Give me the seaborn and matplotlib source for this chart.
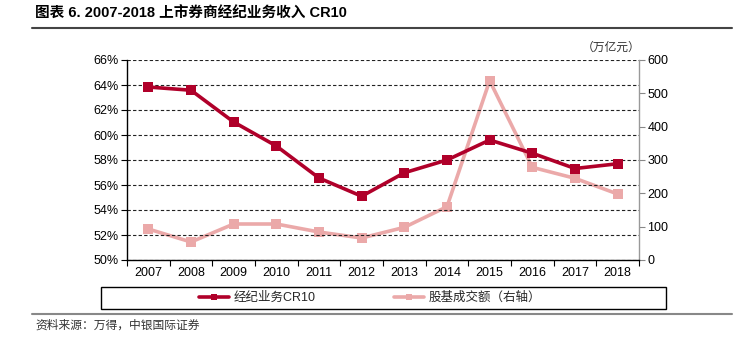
import matplotlib
matplotlib.use("Agg")
import matplotlib.pyplot as plt
from matplotlib.lines import Line2D
from matplotlib.patches import Rectangle
from matplotlib.ticker import FixedLocator, FuncFormatter
import seaborn as sns
import pandas as pd
import numpy as np

years = ["2007", "2008", "2009", "2010", "2011", "2012",
         "2013", "2014", "2015", "2016", "2017", "2018"]
cr10 = [63.84, 63.58, 61.04, 59.12, 56.56, 55.10,
        56.98, 58.00, 59.60, 58.54, 57.32, 57.70]          # %
turnover = [93, 54, 108, 108, 84, 66, 98, 160, 538, 278, 245, 198]  # 万亿元

title = "图表 6. 2007-2018 上市券商经纪业务收入 CR10"
label_cr10 = "经纪业务CR10"
label_turnover = "股基成交额（右轴）"
unit_label = "（万亿元）"
source = "资料来源：万得，中银国际证券"

dark = "#B0002A"
pink = "#EBA9A9"

sns.set_theme(style="white")
plt.rcParams["font.family"] = ["Liberation Sans", "Noto Sans CJK SC", "DejaVu Sans"]

W, H = 743, 337
fig = plt.figure(figsize=(W / 100, H / 100), dpi=100)
ax = fig.add_axes([127 / W, 1 - 260 / H, (639 - 127) / W, 200 / H])
ax2 = ax.twinx()

df = pd.DataFrame({"x": np.arange(len(years)), "cr10": cr10, "turnover": turnover})

sns.lineplot(data=df, x="x", y="turnover", ax=ax2, color=pink, lw=2.6,
             marker="s", markersize=7, markeredgewidth=0, zorder=2)
sns.lineplot(data=df, x="x", y="cr10", ax=ax, color=dark, lw=2.6,
             marker="s", markersize=7, markeredgewidth=0, zorder=3)

# draw the left axis (dark line) above the right one
ax.set_zorder(ax2.get_zorder() + 1)
ax.patch.set_visible(False)

ax.set_xlim(-0.5, len(years) - 0.5)
ax.set_ylim(50, 66)
ax2.set_ylim(0, 600)
ax.set_yticks(np.arange(50, 67, 2))
ax.yaxis.set_major_formatter(FuncFormatter(lambda v, p: f"{v:.0f}%"))
ax2.set_yticks(np.arange(0, 601, 100))

ax.set_xticks(np.arange(len(years)))
ax.set_xticklabels(years)
ax.xaxis.set_minor_locator(FixedLocator(np.arange(-0.5, len(years), 1.0)))
ax.tick_params(axis="x", which="major", length=0, pad=5, labelsize=9, colors="black")
ax.tick_params(axis="x", which="minor", length=4, width=0.8, color="black", direction="out", bottom=True)
ax.tick_params(axis="y", length=4, width=0.8, color="black", direction="out", left=True, labelsize=9, labelcolor="black", pad=2)
ax2.tick_params(axis="y", length=4, width=0.8, color="#888888", direction="out", right=True, labelsize=9, labelcolor="black", pad=2)

ax.set_xlabel("")
ax.set_ylabel("")
ax2.set_ylabel("")
ax.grid(axis="y", color="#222222", linestyle=(0, (3, 2)), lw=0.8)
ax.grid(axis="x", visible=False)
ax2.grid(False)

for a in (ax, ax2):
    a.spines["top"].set_visible(False)
ax.spines["right"].set_visible(False)
ax.spines["left"].set_color("black")
ax.spines["bottom"].set_color("black")
ax2.spines["left"].set_visible(False)
ax2.spines["bottom"].set_visible(False)
ax2.spines["right"].set_color("#999999")
for s in ("left", "bottom"):
    ax.spines[s].set_linewidth(1.0)
ax2.spines["right"].set_linewidth(1.0)

fig.text(640 / W, 1 - 48 / H, unit_label, ha="right", va="center", fontsize=8.5,
         style="italic", color="#333333")

# legend with a framed box
handles = [Line2D([], [], color=dark, lw=2.6, marker="s", markersize=4, markeredgewidth=0),
           Line2D([], [], color=pink, lw=2.6, marker="s", markersize=4, markeredgewidth=0)]
fig.legend(handles, [label_cr10, label_turnover], loc="center",
           bbox_to_anchor=(370 / W, 1 - 298 / H), ncol=2, frameon=False,
           fontsize=9, handlelength=2.4, handletextpad=0.4, columnspacing=6.2)
fig.add_artist(Rectangle((101 / W, 1 - 309 / H), (666 - 101) / W, 22 / H,
                         transform=fig.transFigure, fill=False, ec="black", lw=1.0))

# title, rules and source note
fig.text(35 / W, 1 - 14 / H, title, ha="left", va="center", fontsize=10.5,
         fontweight="bold", color="black")
fig.add_artist(Line2D([32 / W, 732 / W], [1 - 28 / H, 1 - 28 / H],
                      transform=fig.transFigure, color="#444444", lw=1.5))
fig.add_artist(Line2D([32 / W, 732 / W], [1 - 314 / H, 1 - 314 / H],
                      transform=fig.transFigure, color="#888888", lw=1.5))
fig.text(35 / W, 1 - 326 / H, source, ha="left", va="center", fontsize=8.5,
         style="italic", color="#333333")

fig.savefig("out.png", dpi=100)
